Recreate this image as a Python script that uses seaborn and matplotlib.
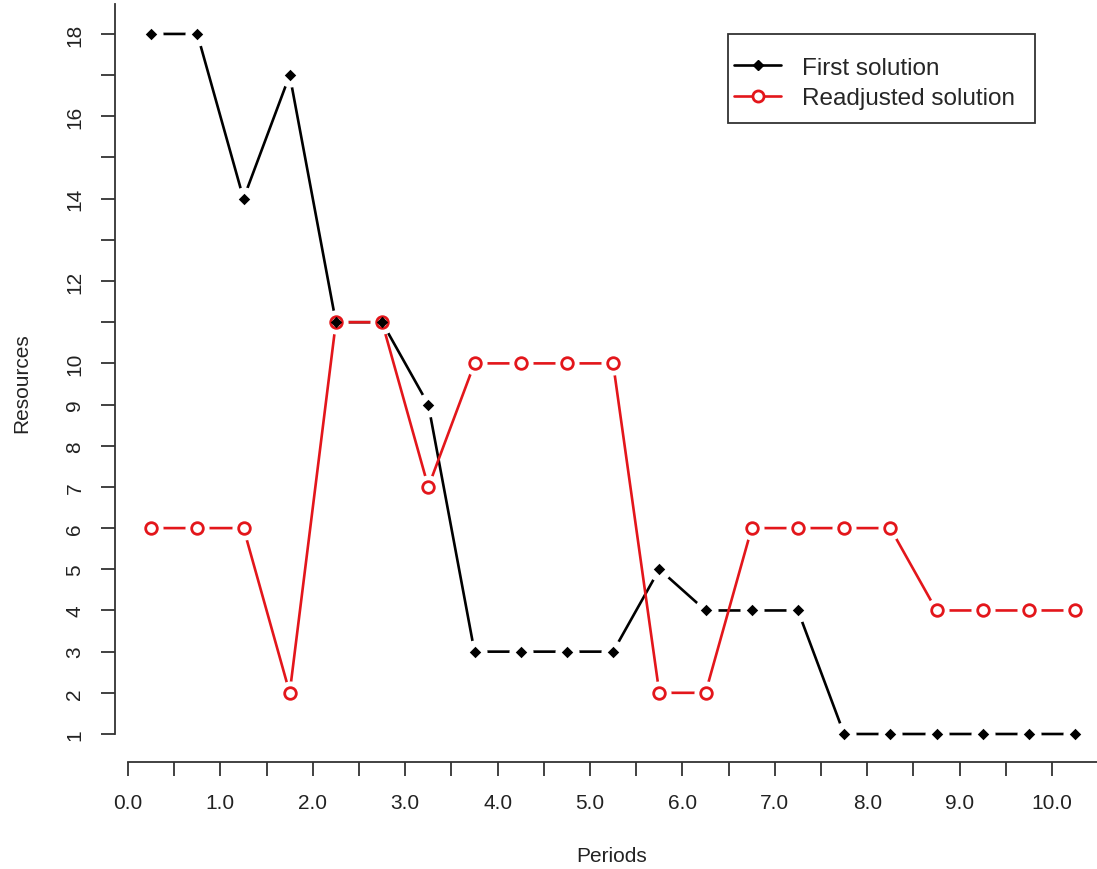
import numpy as np
import pandas as pd
import matplotlib
matplotlib.use("Agg")
import matplotlib.pyplot as plt
from matplotlib.lines import Line2D
from matplotlib.patches import Rectangle
import seaborn as sns

periods = [0.25, 0.75, 1.25, 1.75, 2.25, 2.75, 3.25, 3.75, 4.25, 4.75, 5.25,
           5.75, 6.25, 6.75, 7.25, 7.75, 8.25, 8.75, 9.25, 9.75, 10.25]
first_solution = [18, 18, 14, 17, 11, 11, 9, 3, 3, 3, 3, 5, 4, 4, 4, 1, 1, 1, 1, 1, 1]
readjusted_solution = [6, 6, 6, 2, 11, 11, 7, 10, 10, 10, 10, 2, 2, 6, 6, 6, 6, 4, 4, 4, 4]

x_ticks = [0, 0.5, 1, 1.5, 2, 2.5, 3, 3.5, 4, 4.5, 5, 5.5, 6, 6.5, 7, 7.5, 8, 8.5, 9, 9.5, 10]
x_labels = ["0.0", "", "1.0", "", "2.0", "", "3.0", "", "4.0", "", "5.0", "",
            "6.0", "", "7.0", "", "8.0", "", "9.0", "", "10.0"]
y_ticks = list(range(1, 19))
y_labels = ["1", "2", "3", "4", "5", "6", "7", "8", "9", "10", "", "12", "", "14", "", "16", "", "18"]

RED = "#e3161b"
BLACK = "#000000"

sns.set_style("ticks")
plt.rcParams["font.family"] = ["Liberation Sans", "DejaVu Sans"]

df = pd.concat([
    pd.DataFrame({"period": periods, "resources": first_solution, "solution": "First solution"}),
    pd.DataFrame({"period": periods, "resources": readjusted_solution, "solution": "Readjusted solution"}),
], ignore_index=True)
first = df[df.solution == "First solution"]
readj = df[df.solution == "Readjusted solution"]

W, H = 1097, 870
fig = plt.figure(figsize=(W / 100, H / 100), dpi=100)
# axes box matches R's axis lines (left at x=115px, bottom at y=763px)
ax = fig.add_axes([115 / W, (H - 763) / H, (W - 115) / W, (763 - 5) / H])

px_x, x0 = 92.4, 128      # px per unit, px of x=0
px_y, y1 = 41.18, 735     # px per unit, px of y=1
ax.set_xlim((115 - x0) / px_x, (W - x0) / px_x)
ax.set_ylim(1 - (763 - y1) / px_y, 18 + (y1 - 17 * px_y - 5) / px_y)

# lines, then white masks to get R's type="b" gaps, then markers
sns.lineplot(data=first, x="period", y="resources", color=BLACK, linewidth=1.9,
             estimator=None, sort=False, ax=ax, zorder=1)
sns.scatterplot(data=first, x="period", y="resources", color="white", s=300,
                linewidth=0, ax=ax, zorder=2)
sns.lineplot(data=readj, x="period", y="resources", color=RED, linewidth=1.9,
             estimator=None, sort=False, ax=ax, zorder=3)
sns.scatterplot(data=readj, x="period", y="resources", color="white", s=300,
                linewidth=0, ax=ax, zorder=4)
sns.scatterplot(data=readj, x="period", y="resources", color="white", edgecolor=RED,
                s=70, linewidth=2.0, ax=ax, zorder=5)
sns.scatterplot(data=first, x="period", y="resources", color=BLACK, marker="D",
                s=34, linewidth=0, ax=ax, zorder=6)

for s in ["top", "right"]:
    ax.spines[s].set_visible(False)
for s in ["left", "bottom"]:
    ax.spines[s].set_color("#333333")
    ax.spines[s].set_linewidth(1.3)
ax.spines["left"].set_bounds(1, ax.get_ylim()[1])
ax.spines["bottom"].set_bounds(0, ax.get_xlim()[1])

ax.set_xticks(x_ticks)
ax.set_xticklabels(x_labels, fontsize=15, color="#222222")
ax.set_yticks(y_ticks)
ax.set_yticklabels(y_labels, fontsize=15, color="#222222", rotation=90, va="center")
ax.tick_params(axis="both", direction="out", length=10, width=1.3, color="#333333",
               bottom=True, left=True)
ax.tick_params(axis="x", pad=12)
ax.tick_params(axis="y", pad=12)

ax.set_xlabel("Periods", fontsize=15, color="#222222", ha="center", va="center")
ax.xaxis.set_label_coords((612 - 115) / (W - 115), (H - 857 - (H - 763)) / (763 - 5))
ax.set_ylabel("Resources", fontsize=15, color="#222222", ha="center", va="center")
ax.yaxis.set_label_coords((22 - 115) / (W - 115), (H - 383 - (H - 763)) / (763 - 5))

# legend box drawn as its own rectangle, like R's wider legend frame
fig.patches.append(Rectangle((728 / W, 1 - 124 / H), (1035 - 728) / W, (124 - 35) / H,
                             transform=fig.transFigure, fill=False,
                             edgecolor="#333333", linewidth=1.3))
handles = [
    Line2D([0], [0], color=BLACK, lw=1.9, marker="D", markersize=5.5),
    Line2D([0], [0], color=RED, lw=1.9, marker="o", markersize=8,
           markerfacecolor="white", markeredgecolor=RED, markeredgewidth=2.0),
]
leg = ax.legend(handles, ["First solution", "Readjusted solution"],
                loc="center left", bbox_to_anchor=(728 / W, 1 - 84 / H),
                bbox_transform=fig.transFigure, borderaxespad=0,
                fontsize=17.5, frameon=False, handlelength=1.95, handletextpad=0.85,
                borderpad=0.25, labelspacing=0.33)

fig.savefig("out.png", dpi=100)
